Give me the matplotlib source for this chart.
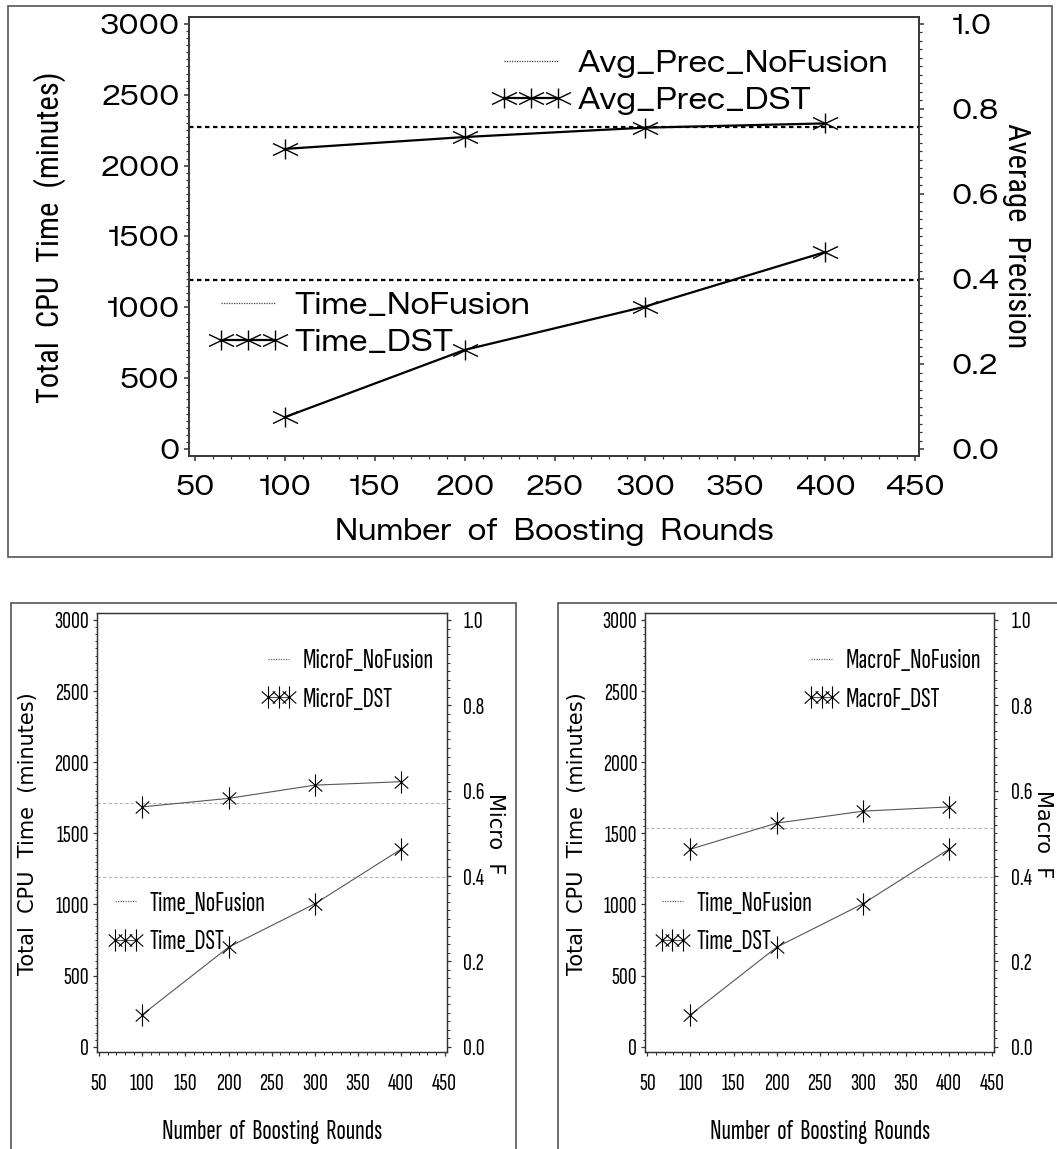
import matplotlib.pyplot as plt
from matplotlib.path import Path
from matplotlib.lines import Line2D
from matplotlib.patches import Rectangle

# boosting rounds and results
rounds = [100, 200, 300, 400]
time_dst = [225, 700, 1005, 1390]
time_nofusion = 1195
avg_prec_dst = [0.706, 0.734, 0.756, 0.766]
avg_prec_nofusion = 0.758
micro_f_dst = [0.562, 0.582, 0.613, 0.621]
micro_f_nofusion = 0.572
macro_f_dst = [0.463, 0.524, 0.552, 0.562]
macro_f_nofusion = 0.512

x_ticks = [50, 100, 150, 200, 250, 300, 350, 400, 450]
time_ticks = [0, 500, 1000, 1500, 2000, 2500, 3000]
score_ticks = [0.0, 0.2, 0.4, 0.6, 0.8, 1.0]
score_tick_labels = ["0.0", "0.2", "0.4", "0.6", "0.8", "1.0"]

W, H = 1057, 1149
fig = plt.figure(figsize=(W / 100, H / 100), dpi=100)


def rect(x0, y0, x1, y1):
    # pixel box (top-left origin) -> figure fraction rect
    return [x0 / W, 1 - y1 / H, (x1 - x0) / W, (y1 - y0) / H]


def star(dx, dy, bar):
    verts = [(-dx, -dy), (dx, dy), (-dx, dy), (dx, -dy), (0, -bar), (0, bar)]
    return Path(verts, [Path.MOVETO, Path.LINETO] * 3)


BIG = dict(hfont=["Zalando Sans SemiExpanded", "DejaVu Sans"],
           vfont=["Roboto Condensed", "Liberation Sans"],
           tick_size=20, label_size=21, leg_size=21.5, vlabel_size=22,
           line_c="black", line_w=1.6, ref_c="black", ref_w=1.6, ref_ls=(0, (2, 1.6)),
           leg_ref_c="#444444",
           marker=star(12.5, 6, 10), ms=18, mew=1.0,
           spine_w=1.1, major=3.6, minor=2.0, pad_l=3.2, pad_r=20, pad_x=10,
           leg_hl=2.4, leg_tp=0.36, leg_ls=0.3)
SMALL = dict(hfont=["Sofia Sans Extra Condensed", "Roboto Condensed", "Liberation Sans"],
             vfont="DejaVu Sans",
             tick_size=17.5, label_size=20, leg_size=20, vlabel_size=15,
             line_c="#555555", line_w=0.8, ref_c="#b8b8b8", ref_w=0.8, ref_ls=(0, (3, 2)),
             leg_ref_c="#666666",
             marker=star(6.7, 6, 11), ms=16, mew=0.8,
             spine_w=0.9, major=3.0, minor=1.8, pad_l=2.5, pad_r=9, pad_x=12,
             leg_hl=1.35, leg_tp=0.2, leg_ls=0.5)


def panel(box, xlim, ylim, score_dst, score_nofusion, dst_name, nofusion_name, score_label,
          label_pos, legend_pos, st):
    ax = fig.add_axes(rect(*box))
    ax2 = ax.twinx()

    ax.axhline(time_nofusion, color=st["ref_c"], lw=st["ref_w"], ls=st["ref_ls"])
    ax.plot(rounds, time_dst, color=st["line_c"], lw=st["line_w"], marker=st["marker"],
            ms=st["ms"], mec="black", mew=st["mew"])
    ax2.axhline(score_nofusion, color=st["ref_c"], lw=st["ref_w"], ls=st["ref_ls"])
    ax2.plot(rounds, score_dst, color=st["line_c"], lw=st["line_w"], marker=st["marker"],
             ms=st["ms"], mec="black", mew=st["mew"])

    ax.set_xlim(*xlim)
    ax.set_ylim(*ylim)
    ax2.set_ylim(ylim[0] / 3000, ylim[1] / 3000)

    txt = dict(fontfamily=st["hfont"], fontsize=st["tick_size"])
    ax.set_xticks(x_ticks, [str(v) for v in x_ticks], **txt)
    ax.set_xticks(range(60, 450, 10), minor=True)
    ax.set_yticks(time_ticks, [str(v) for v in time_ticks], **txt)
    ax.set_yticks(range(50, 3000, 50), minor=True)
    ax2.set_yticks(score_ticks, score_tick_labels, **txt)
    ax2.set_yticks([i / 50 for i in range(1, 50)], minor=True)

    for a in (ax, ax2):
        for s in a.spines.values():
            s.set_linewidth(st["spine_w"])
            s.set_color("#333333")
        a.tick_params(which="major", length=st["major"], width=st["spine_w"], color="#333333")
        a.tick_params(which="minor", length=st["minor"], width=st["spine_w"] * 0.8, color="#333333")
    ax.tick_params(axis="y", which="both", pad=st["pad_l"])
    ax.tick_params(axis="x", which="both", pad=st["pad_x"])
    ax2.tick_params(axis="y", which="both", pad=st["pad_r"])

    # axis titles
    (xl_x, xl_y), (yl_x, yl_y), (yr_x, yr_y) = label_pos
    fig.text(xl_x / W, 1 - xl_y / H, "Number  of  Boosting  Rounds", ha="center", va="center",
             fontfamily=st["hfont"], fontsize=st["label_size"])
    fig.text(yl_x / W, 1 - yl_y / H, "Total  CPU  Time  (minutes)", ha="center", va="center",
             rotation=90, fontfamily=st["vfont"], fontsize=st["vlabel_size"])
    fig.text(yr_x / W, 1 - yr_y / H, score_label, ha="center", va="center",
             rotation=-90, fontfamily=st["vfont"], fontsize=st["vlabel_size"])

    # legends: one per measure
    def handles():
        ref = Line2D([], [], color=st["leg_ref_c"], lw=0.9, ls=(0, (1, 1)))
        dst = Line2D([], [], color=st["line_c"], lw=st["line_w"], marker=st["marker"],
                     ms=st["ms"], mec="black", mew=st["mew"])
        return [ref, dst]

    common = dict(loc="center left", frameon=False, numpoints=3, borderpad=0,
                  borderaxespad=0, handlelength=st["leg_hl"], handletextpad=st["leg_tp"],
                  labelspacing=st["leg_ls"],
                  prop=dict(family=st["hfont"], size=st["leg_size"]))
    leg_score = ax2.legend(handles(), [nofusion_name, dst_name],
                           bbox_to_anchor=legend_pos[0], **common)
    ax2.add_artist(leg_score)
    ax2.legend(handles(), ["Time_NoFusion", "Time_DST"], bbox_to_anchor=legend_pos[1], **common)
    return ax, ax2


# outer frames
frame = dict(fill=False, lw=1.2, ec="#555555", transform=fig.transFigure)
fig.add_artist(Rectangle((8 / W, 1 - 557 / H), (1052 - 8) / W, (557 - 6) / H, **frame))
fig.add_artist(Rectangle((11 / W, -0.05), (516 - 11) / W, 1 - 603 / H + 0.05, **frame))
fig.add_artist(Rectangle((558 / W, -0.05), 0.6, 1 - 603 / H + 0.05, **frame))

panel((189, 16.7, 919, 456), (46.8, 452.2), (-49, 3051), avg_prec_dst, avg_prec_nofusion,
      "Avg_Prec_DST", "Avg_Prec_NoFusion", "Average  Precision",
      ((554, 532), (50, 237), (1016, 236)),
      ((0.419, 0.851), (0.0315, 0.300)), BIG)
panel((96.7, 613, 446.7, 1052), (47.3, 452.5), (-37, 3049), micro_f_dst, micro_f_nofusion,
      "MicroF_DST", "MicroF_NoFusion", "Micro  F",
      ((272, 1132), (28, 834), (495, 834)),
      ((0.466, 0.847), (0.028, 0.294)), SMALL)
panel((645, 613, 994.5, 1052), (47.3, 452.5), (-37, 3049), macro_f_dst, macro_f_nofusion,
      "MacroF_DST", "MacroF_NoFusion", "Macro  F",
      ((820, 1132), (577, 834), (1043, 834)),
      ((0.452, 0.847), (0.024, 0.294)), SMALL)

fig.savefig("out.png", dpi=100)
